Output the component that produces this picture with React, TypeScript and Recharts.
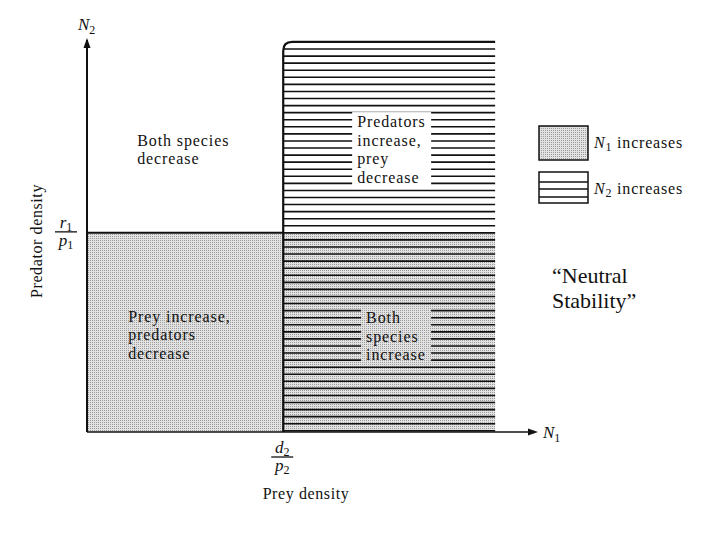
import {
  ComposedChart,
  XAxis,
  YAxis,
  Line,
  ReferenceArea,
  ReferenceDot,
  Legend,
} from "recharts";

// isoclines: prey equilibrium d2/p2 and predator equilibrium r1/p1
const preyIsocline = 4.38;
const predatorIsocline = 5.08;
// axis extents and the extent of the drawn regions
const axisMax = 10;
const regionMaxPrey = 9.11;
const regionMaxPredator = 9.95;

// predator zero-growth isocline (left of the prey isocline)
const preyValues = [0, preyIsocline];
const predatorValues = [predatorIsocline, predatorIsocline];

const xTicks = [preyIsocline];
const yTicks = [predatorIsocline];

const legendItems = ["N1 increases", "N2 increases"];

// text notes inside the quadrants (top-left corner of each block)
const notes = [
  { x: 1.12, y: 7.63, lines: ["Both species", "decrease"] },
  { x: 6.03, y: 8.11, lines: ["Predators", "increase,", "prey", "decrease"], box: "#fff" },
  { x: 0.92, y: 3.14, lines: ["Prey increase,", "predators", "decrease"] },
  { x: 6.23, y: 3.11, lines: ["Both", "species", "increase"], box: "url(#stipple)" },
];

const isocline = preyValues.map((prey, i) => ({ prey, predator: predatorValues[i] }));

const serif = "'Liberation Serif', 'DejaVu Serif', serif";
const ink = "#111";

function Patterns() {
  return (
    <svg width={0} height={0} style={{ position: "absolute" }}>
      <defs>
        <pattern id="stipple" width={2} height={2} patternUnits="userSpaceOnUse">
          <rect width={2} height={2} fill="#e2e2e2" />
          <rect width={1} height={1} fill="#9c9c9c" />
        </pattern>
      </defs>
    </svg>
  );
}

function HatchShape(props: any) {
  const { x, y, width, height } = props;
  const step = 7.07;
  const r = 9;
  const lines = [];
  for (let yy = y + step; yy < y + height - 1; yy += step) {
    lines.push(
      <line key={yy} x1={x} x2={x + width} y1={yy} y2={yy} stroke={ink} strokeWidth={1.6} />
    );
  }
  return (
    <g>
      {lines}
      <path
        d={`M${x},${y + height} V${y + r} Q${x},${y} ${x + r},${y} H${x + width}`}
        fill="none"
        stroke={ink}
        strokeWidth={2.2}
      />
    </g>
  );
}

function NoteShape(props: any) {
  const { cx, cy, note } = props;
  const lh = 18.5;
  return (
    <g>
      {note.box && (
        <rect
          x={cx - 5}
          y={cy - 2}
          width={note.lines.length === 4 ? 79 : 70}
          height={note.lines.length * lh + 2}
          fill={note.box}
        />
      )}
      <text fontFamily={serif} fontSize={16} letterSpacing={0.9} fill={ink}>
        {note.lines.map((l: string, i: number) => (
          <tspan key={i} x={cx} y={cy + 13 + i * lh}>
            {l}
          </tspan>
        ))}
      </text>
    </g>
  );
}

function XArrow(props: any) {
  const { cx, cy } = props;
  return (
    <g>
      <path d={`M${cx + 3},${cy} L${cx - 7},${cy - 3.5} L${cx - 7},${cy + 3.5}Z`} fill={ink} />
      <text x={cx + 8} y={cy + 6} fontFamily={serif} fontSize={17} fill={ink}>
        <tspan fontStyle="italic">N</tspan>
        <tspan fontSize={12} dy={4}>1</tspan>
      </text>
    </g>
  );
}

function YArrow(props: any) {
  const { cx, cy } = props;
  return (
    <g>
      <path d={`M${cx},${cy - 2} L${cx - 3.5},${cy + 8} L${cx + 3.5},${cy + 8}Z`} fill={ink} />
      <text x={cx - 9} y={cy - 10} fontFamily={serif} fontSize={17} fill={ink}>
        <tspan fontStyle="italic">N</tspan>
        <tspan fontSize={12} dy={4}>2</tspan>
      </text>
    </g>
  );
}

function Fraction({ x, y, num, den, sub }: any) {
  return (
    <g fontFamily={serif} fill={ink}>
      <text x={x} y={y - 4} textAnchor="middle" fontSize={17}>
        <tspan fontStyle="italic">{num}</tspan>
        <tspan fontSize={12} dy={3}>{sub}</tspan>
      </text>
      <line x1={x - 11} x2={x + 11} y1={y} y2={y} stroke={ink} strokeWidth={1.3} />
      <text x={x} y={y + 14} textAnchor="middle" fontSize={17}>
        <tspan fontStyle="italic">{den}</tspan>
        <tspan fontSize={12} dy={3}>{sub}</tspan>
      </text>
    </g>
  );
}

function XTick(props: any) {
  const { x, y } = props;
  return <Fraction x={x - 1} y={y + 25} num="d" den="p" sub="2" />;
}

function YTick(props: any) {
  const { x, y } = props;
  return <Fraction x={x - 21} y={y - 1} num="r" den="p" sub="1" />;
}

function LegendContent() {
  return (
    <svg width={170} height={90} style={{ display: "block" }}>
      <rect x={2} y={4} width={49} height={34} fill="url(#stipple)" stroke={ink} strokeWidth={1.5} />
      <rect x={2} y={50} width={49} height={31} fill="#fff" stroke={ink} strokeWidth={1.5} />
      {[60, 67, 75].map((ly) => (
        <line key={ly} x1={2} x2={51} y1={ly} y2={ly} stroke={ink} strokeWidth={1.3} />
      ))}
      {legendItems.map((item, i) => (
        <text
          key={item}
          x={57}
          y={26 + i * 46}
          fontFamily={serif}
          fontSize={16}
          letterSpacing={0.8}
          fill={ink}
        >
          <tspan fontStyle="italic">N</tspan>
          <tspan fontSize={12} dy={3}>{item.slice(1, 2)}</tspan>
          <tspan dy={-3}>{item.slice(2)}</tspan>
        </text>
      ))}
    </svg>
  );
}

export default function App() {
  return (
    <div
      style={{
        position: "absolute",
        left: 0,
        top: 0,
        width: 720,
        height: 540,
        background: "#fff",
        fontFamily: serif,
      }}
    >
      <Patterns />
      <ComposedChart
        width={720}
        height={540}
        data={isocline}
        margin={{ top: 40, right: 185, bottom: 107, left: 86 }}
      >
        <XAxis
          type="number"
          dataKey="prey"
          domain={[0, axisMax]}
          ticks={xTicks}
          tick={<XTick />}
          tickLine={false}
          tickSize={0}
          tickMargin={0}
          height={1}
          axisLine={{ stroke: ink, strokeWidth: 1.6 }}
          label={{
            content: (p: any) => (
              <text
                x={p.viewBox.x + p.viewBox.width / 2 - 5}
                y={p.viewBox.y + 67}
                textAnchor="middle"
                fontFamily={serif}
                fontSize={16}
                letterSpacing={0.6}
                fill={ink}
              >
                Prey density
              </text>
            ),
          }}
        />
        <YAxis
          type="number"
          dataKey="predator"
          domain={[0, axisMax]}
          ticks={yTicks}
          tick={<YTick />}
          tickLine={false}
          tickSize={0}
          tickMargin={0}
          width={1}
          axisLine={{ stroke: ink, strokeWidth: 2 }}
          label={{
            content: (p: any) => {
              const cx = p.viewBox.x - 50;
              const cy = p.viewBox.y + p.viewBox.height / 2 + 5;
              return (
                <text
                  x={cx}
                  y={cy}
                  transform={`rotate(-90 ${cx} ${cy})`}
                  textAnchor="middle"
                  dominantBaseline="central"
                  fontFamily={serif}
                  fontSize={16}
                  letterSpacing={0.6}
                  fill={ink}
                >
                  Predator density
                </text>
              );
            },
          }}
        />
        <ReferenceArea
          x1={0}
          x2={regionMaxPrey}
          y1={0}
          y2={predatorIsocline}
          fill="url(#stipple)"
          fillOpacity={1}
          stroke="none"
        />
        <ReferenceArea
          x1={preyIsocline}
          x2={regionMaxPrey}
          y1={0}
          y2={regionMaxPredator}
          shape={<HatchShape />}
        />
        <Line
          dataKey="predator"
          stroke={ink}
          strokeWidth={2}
          dot={false}
          activeDot={false}
          legendType="none"
          isAnimationActive={false}
        />
        {notes.map((n, i) => (
          <ReferenceDot key={i} x={n.x} y={n.y} shape={<NoteShape note={n} />} />
        ))}
        <ReferenceDot x={axisMax} y={0} shape={<XArrow />} />
        <ReferenceDot x={0} y={axisMax} shape={<YArrow />} />
        <Legend
          layout="vertical"
          align="center"
          verticalAlign="middle"
          content={<LegendContent />}
          wrapperStyle={{ left: 537, top: 122, width: 170 }}
        />
      </ComposedChart>
      <div
        style={{
          position: "absolute",
          left: 552,
          top: 263,
          fontSize: 22,
          lineHeight: "25px",
          color: ink,
        }}
      >
        “Neutral
        <br />
        Stability”
      </div>
    </div>
  );
}
